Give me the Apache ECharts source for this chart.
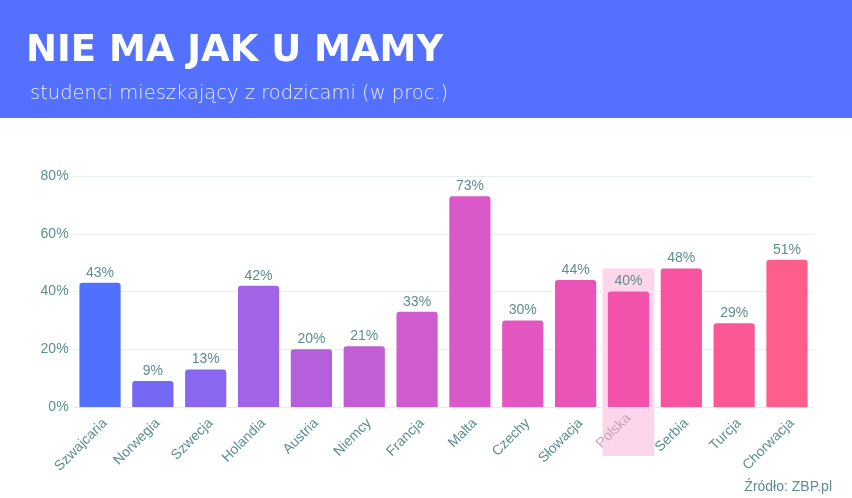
<!DOCTYPE html>
<html><head><meta charset="utf-8">
<script src="https://cdn.jsdelivr.net/npm/echarts@6/dist/echarts.min.js"></script>
<style>html,body{margin:0;padding:0;background:#fff}#c{width:852px;height:498px}</style>
</head><body><div id="c"></div>
<script>
const categories = ['Szwajcaria','Norwegia','Szwecja','Holandia','Austria','Niemcy','Francja','Malta','Czechy','Słowacja','Polska','Serbia','Turcja','Chorwacja'];
const values = [43,9,13,42,20,21,33,73,30,44,40,48,29,51];
const barColors = ['#5170fd','#7568f4','#8b66ee','#a263e6','#b65fdd','#c35dd6','#cf5bcf','#db58c8','#e256c0','#e954b6','#f352aa','#f853a0','#fc5896','#fe5e8a'];
const yTicks = [0,20,40,60,80];
const highlight = 'Polska';

const chart = echarts.init(document.getElementById('c'));
const labelColor = '#5b8f8f';
chart.setOption({
  backgroundColor:'#fff',
  animation:false,
  grid:{left:73.6,right:38.6,top:176,bottom:91},
  xAxis:{type:'category',data:categories.map(c=>c===highlight?{value:c,textStyle:{color:'#c7a3b9'}}:c),
    axisLine:{lineStyle:{color:'#e6eaef'}},axisTick:{show:false},
    axisLabel:{rotate:45,color:labelColor,fontSize:14,fontFamily:'Liberation Sans',margin:9,interval:0,verticalAlign:'top'}},
  yAxis:{type:'value',min:yTicks[0],max:yTicks[yTicks.length-1],interval:20,
    axisLabel:{formatter:'{value}%',color:labelColor,fontSize:14,fontFamily:'Liberation Sans',margin:5},
    splitLine:{lineStyle:{color:'#e9f0f2'}},axisLine:{show:false},axisTick:{show:false}},
  series:[{type:'bar',barCategoryGap:'22%',z:3,
    data:values.map((v,i)=>({value:v,itemStyle:{color:barColors[i],borderRadius:[3,3,0,0]}})),
    label:{show:true,position:'top',distance:3,formatter:'{c}%',color:labelColor,fontSize:14,fontFamily:'Liberation Sans'}}]
});

function drawGraphics(){
  const idx = categories.indexOf(highlight);
  const cx = chart.convertToPixel({xAxisIndex:0},idx);
  const topY = chart.convertToPixel({yAxisIndex:0},values[idx]+8);
  const baseY = chart.convertToPixel({yAxisIndex:0},0);
  const bw = (chart.convertToPixel({xAxisIndex:0},1)-chart.convertToPixel({xAxisIndex:0},0));
  chart.setOption({graphic:[
    {type:'rect',shape:{x:0,y:0,width:852,height:118},style:{fill:'#5371fe'},z:0},
    {type:'text',left:26,top:33,style:{text:'NIE MA JAK U MAMY',fill:'#fff',font:'bold 37px "DejaVu Sans"'},z:1},
    {type:'text',left:30,top:84,style:{text:'studenci mieszkający z rodzicami (w proc.)',fill:'#e6ebff',font:'200 19.5px "DejaVu Sans"'},z:1},
    {type:'rect',shape:{x:cx-bw/2+0.5,y:topY,width:bw-1,height:baseY+49-topY},style:{fill:'#fdd6ec'},z:-1,silent:true},
    {type:'text',right:20,top:480,style:{text:'Źródło: ZBP.pl',fill:labelColor,font:'14px "Liberation Sans"'},z:1}
  ]});
}
drawGraphics();
</script></body></html>
